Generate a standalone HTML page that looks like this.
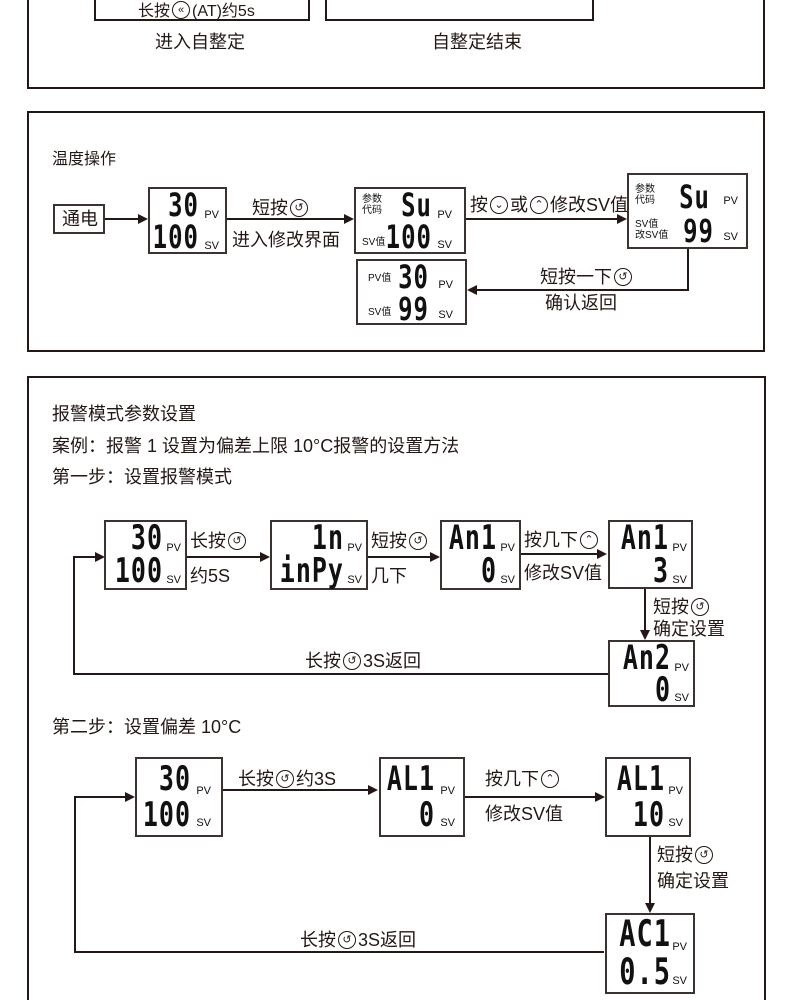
<!DOCTYPE html>
<html><head><meta charset="utf-8"><style>
body{margin:0;width:790px;height:1000px;background:#fff;position:relative;overflow:hidden;font-family:"Liberation Sans","Noto Sans CJK SC",sans-serif;color:#231815}
.a{position:absolute;white-space:nowrap}
.b{position:absolute;border:2px solid #3a3330;box-sizing:border-box;background:#fff}
.t{font-size:18px;line-height:22px}
.d{position:absolute;font-family:"DejaVu Sans Mono",monospace;font-weight:bold;color:#111;transform:scaleY(1.35);transform-origin:right center;letter-spacing:1px;right:0;line-height:28px}
.s{position:absolute;font-size:11px;color:#111}
.c{display:inline-block;width:16px;height:16px;border:1.5px solid #231815;border-radius:50%;font-size:11px;line-height:16px;text-align:center;vertical-align:middle;margin:-3px 2px 0 2px}
</style></head><body>
<svg class="a" style="left:0;top:0" width="790" height="1000">
<g stroke="#231815" fill="none" stroke-width="2">
<path d="M28 0V88H764V0"/>
<rect x="95" y="-2" width="214" height="22"/>
<rect x="326" y="-2" width="267" height="22"/>
<rect x="28" y="112" width="736" height="239"/>
<path d="M28 1000V377H765V1000"/>
<path d="M105 219H140M227 219H346M466 219H619M688 249V290H475"/>
<path d="M187 557H262M368 557H432M520 554H599M645 589V632M608 674H74V557H97"/>
<path d="M223 790H370M465 797H597M650 836V905M604 952H75V797H127"/>
</g>
<g fill="#231815">
<path d="M148 219l-10-5v10z"/><path d="M354 219l-10-5v10z"/><path d="M627 219l-10-5v10z"/><path d="M467 290l10-5v10z"/>
<path d="M270 557l-10-5v10z"/><path d="M440 557l-10-5v10z"/><path d="M607 554l-10-5v10z"/><path d="M645 640l-5-10h10z"/><path d="M105 557l-10-5v10z"/>
<path d="M378 790l-10-5v10z"/><path d="M605 797l-10-5v10z"/><path d="M650 913l-5-10h10z"/><path d="M135 797l-10-5v10z"/>
</g></svg>

<div class="a" style="left:138px;top:-3px;font-size:16px">长按<span class="c">«</span>(AT)约5s</div>
<div class="a t" style="left:155px;top:31px">进入自整定</div>
<div class="a t" style="left:432px;top:31px">自整定结束</div>

<div class="a" style="left:52px;top:145px;font-size:16px">温度操作</div>
<div class="b" style="left:53px;top:204px;width:52px;height:30px"><div class="a t" style="left:7px;top:2px">通电</div></div>
<div class="b" style="left:148px;top:187px;width:79px;height:67px">
<div class="d" style="font-size:24px;top:2px;right:26px">30</div><div class="s" style="right:6px;top:20px">PV</div>
<div class="d" style="font-size:24px;top:34px;right:26px">100</div><div class="s" style="right:6px;top:51px">SV</div></div>
<div class="a t" style="left:252px;top:197px">短按<span class="c">↺</span></div>
<div class="a t" style="left:232px;top:229px">进入修改界面</div>
<div class="b" style="left:354px;top:187px;width:112px;height:67px">
<div class="s" style="left:6px;top:5px;font-size:10px;line-height:11px">参数<br>代码</div>
<div class="d" style="font-size:24px;top:2px;right:32px">Su</div><div class="s" style="right:12px;top:20px">PV</div>
<div class="s" style="left:6px;top:44px;font-size:10px">SV值</div>
<div class="d" style="font-size:24px;top:34px;right:32px">100</div><div class="s" style="right:12px;top:50px">SV</div></div>
<div class="a t" style="left:470px;top:194px">按<span class="c">⌄</span>或<span class="c">⌃</span>修改SV值</div>
<div class="b" style="left:627px;top:173px;width:121px;height:76px">
<div class="s" style="left:6px;top:9px;font-size:10px;line-height:11px">参数<br>代码</div>
<div class="d" style="font-size:24px;top:8px;right:36px">Su</div><div class="s" style="right:8px;top:20px">PV</div>
<div class="s" style="left:6px;top:44px;font-size:10px;line-height:11px">SV值<br>改SV值</div>
<div class="d" style="font-size:24px;top:42px;right:32px">99</div><div class="s" style="right:8px;top:56px">SV</div></div>
<div class="a t" style="left:540px;top:266px">短按一下<span class="c">↺</span></div>
<div class="a t" style="left:545px;top:292px">确认返回</div>
<div class="b" style="left:356px;top:259px;width:111px;height:66px">
<div class="s" style="left:10px;top:8px;font-size:10px">PV值</div>
<div class="d" style="font-size:24px;top:2px;right:36px">30</div><div class="s" style="right:12px;top:18px">PV</div>
<div class="s" style="left:10px;top:42px;font-size:10px">SV值</div>
<div class="d" style="font-size:24px;top:34px;right:36px">99</div><div class="s" style="right:12px;top:48px">SV</div></div>

<div class="a t" style="left:52px;top:403px">报警模式参数设置</div>
<div class="a t" style="left:52px;top:435px">案例：报警 1 设置为偏差上限 10°C报警的设置方法</div>
<div class="a t" style="left:52px;top:466px">第一步：设置报警模式</div>

<div class="b" style="left:104px;top:520px;width:83px;height:70px">
<div class="d" style="font-size:25px;top:2px;right:22px">30</div><div class="s" style="right:4px;top:20px">PV</div>
<div class="d" style="font-size:25px;top:35px;right:22px">100</div><div class="s" style="right:4px;top:52px">SV</div></div>
<div class="a t" style="left:190px;top:530px">长按<span class="c">↺</span></div>
<div class="a t" style="left:190px;top:565px">约5S</div>
<div class="b" style="left:270px;top:520px;width:98px;height:70px">
<div class="d" style="font-size:25px;top:2px;right:22px">1n</div><div class="s" style="right:4px;top:20px">PV</div>
<div class="d" style="font-size:25px;top:35px;right:22px">inPy</div><div class="s" style="right:4px;top:52px">SV</div></div>
<div class="a t" style="left:371px;top:530px">短按<span class="c">↺</span></div>
<div class="a t" style="left:371px;top:565px">几下</div>
<div class="b" style="left:440px;top:520px;width:81px;height:70px">
<div class="d" style="font-size:25px;top:2px;right:22px">An1</div><div class="s" style="right:4px;top:20px">PV</div>
<div class="d" style="font-size:25px;top:35px;right:22px">0</div><div class="s" style="right:4px;top:52px">SV</div></div>
<div class="a t" style="left:524px;top:529px">按几下<span class="c">⌃</span></div>
<div class="a t" style="left:524px;top:562px">修改SV值</div>
<div class="b" style="left:608px;top:520px;width:85px;height:69px">
<div class="d" style="font-size:25px;top:2px;right:22px">An1</div><div class="s" style="right:4px;top:20px">PV</div>
<div class="d" style="font-size:25px;top:35px;right:22px">3</div><div class="s" style="right:4px;top:52px">SV</div></div>
<div class="a t" style="left:653px;top:596px">短按<span class="c">↺</span></div>
<div class="a t" style="left:653px;top:618px">确定设置</div>
<div class="b" style="left:608px;top:640px;width:87px;height:67px">
<div class="d" style="font-size:25px;top:2px;right:22px">An2</div><div class="s" style="right:4px;top:20px">PV</div>
<div class="d" style="font-size:25px;top:34px;right:22px">0</div><div class="s" style="right:4px;top:50px">SV</div></div>
<div class="a t" style="left:305px;top:650px">长按<span class="c">↺</span>3S返回</div>

<div class="a t" style="left:52px;top:716px">第二步：设置偏差 10°C</div>
<div class="b" style="left:135px;top:757px;width:88px;height:80px">
<div class="d" style="font-size:25px;top:6px;right:30px">30</div><div class="s" style="right:10px;top:26px">PV</div>
<div class="d" style="font-size:25px;top:42px;right:30px">100</div><div class="s" style="right:10px;top:58px">SV</div></div>
<div class="a t" style="left:238px;top:768px">长按<span class="c">↺</span>约3S</div>
<div class="b" style="left:379px;top:757px;width:86px;height:80px">
<div class="d" style="font-size:25px;top:6px;right:28px">AL1</div><div class="s" style="right:8px;top:26px">PV</div>
<div class="d" style="font-size:25px;top:42px;right:28px">0</div><div class="s" style="right:8px;top:58px">SV</div></div>
<div class="a t" style="left:485px;top:768px">按几下<span class="c">⌃</span></div>
<div class="a t" style="left:485px;top:803px">修改SV值</div>
<div class="b" style="left:605px;top:757px;width:86px;height:80px">
<div class="d" style="font-size:25px;top:6px;right:24px">AL1</div><div class="s" style="right:6px;top:26px">PV</div>
<div class="d" style="font-size:25px;top:42px;right:24px">10</div><div class="s" style="right:6px;top:58px">SV</div></div>
<div class="a t" style="left:657px;top:844px">短按<span class="c">↺</span></div>
<div class="a t" style="left:657px;top:870px">确定设置</div>
<div class="b" style="left:605px;top:913px;width:90px;height:81px">
<div class="d" style="font-size:27px;top:6px;right:22px">AC1</div><div class="s" style="right:6px;top:26px">PV</div>
<div class="d" style="font-size:27px;top:44px;right:22px">0.5</div><div class="s" style="right:6px;top:60px">SV</div></div>
<div class="a t" style="left:300px;top:929px">长按<span class="c">↺</span>3S返回</div>
</body></html>
